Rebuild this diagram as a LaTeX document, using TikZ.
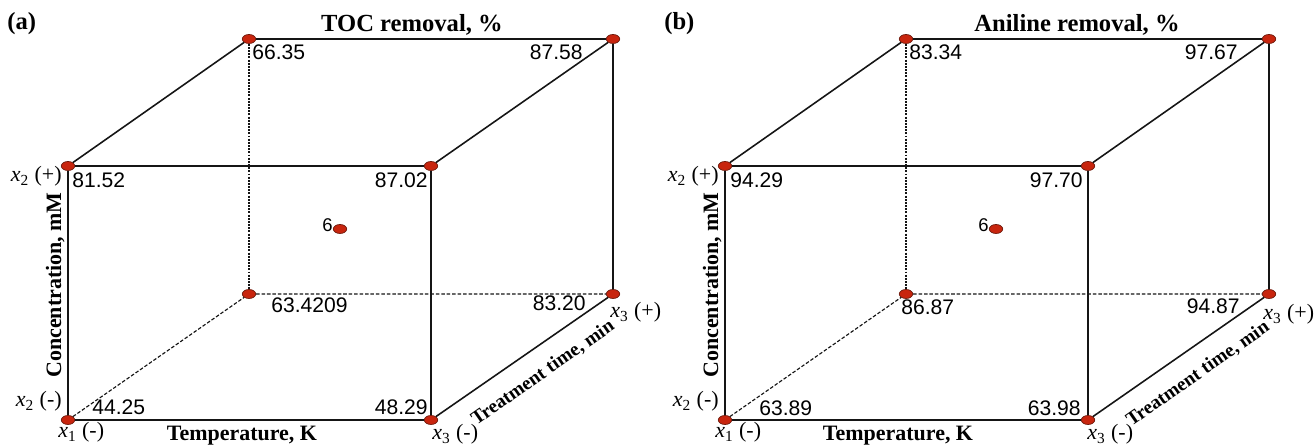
\documentclass[tikz,border=0pt]{standalone}
\usepackage{fontspec}
\setmainfont{Liberation Serif}
\newfontfamily\numfont{Liberation Sans}
\usepackage{tikz}
\usetikzlibrary{shapes.geometric}
\definecolor{dotred}{HTML}{C8250E}
\definecolor{dotrim}{HTML}{6E1A0C}
\definecolor{edgegray}{HTML}{151515}
\newcommand{\xfac}[2]{{\itshape x}\textsubscript{#1} (#2)}

\begin{document}
\begin{tikzpicture}[x=0.02cm, y=-0.02cm,
    vtx/.style={ellipse, draw=dotrim, fill=dotred, line width=0.4pt,
      minimum width=0.27cm, minimum height=0.18cm, inner sep=0pt},
    cubeline/.style={draw=edgegray, line width=0.9pt},
    hid/.style={draw=edgegray, line width=0.65pt, dash pattern=on 2pt off 1.1pt},
    hidv/.style={draw=edgegray, line width=0.65pt, dash pattern=on 1.1pt off 0.7pt},
    val/.style={font=\numfont\fontsize{12}{14}\selectfont, inner sep=0pt},
    fac/.style={font=\fontsize{12.5}{14}\selectfont, inner sep=0pt},
    axlab/.style={font=\bfseries\fontsize{12.5}{14}\selectfont, inner sep=0pt},
    ttl/.style={font=\bfseries\fontsize{14}{16}\selectfont, inner sep=0pt}]
  \useasboundingbox (0,0) rectangle (1315,448);

  % (a) TOC removal
  \node[ttl, anchor=base west] (a-tag) at (7,30) {(a)};
  \node[ttl, anchor=base] (a-title) at (412,32) {TOC removal, \%};
  \node[vtx] (a-fbl) at (68,420) {};
  \node[vtx] (a-fbr) at (431,420) {};
  \node[vtx] (a-ftl) at (68,166) {};
  \node[vtx] (a-ftr) at (431,166) {};
  \node[vtx] (a-bbl) at (249,294) {};
  \node[vtx] (a-bbr) at (613,294) {};
  \node[vtx] (a-btl) at (249,39) {};
  \node[vtx] (a-btr) at (613,39) {};
  \node[vtx] (a-mid) at (340,229) {};
  \draw[cubeline] (a-fbl) -- (a-fbr) -- (a-ftr) -- (a-ftl) -- (a-fbl);
  \draw[cubeline] (a-ftl) -- (a-btl) -- (a-btr) -- (a-ftr);
  \draw[cubeline] (a-fbr) -- (a-bbr) -- (a-btr);
  \draw[hidv] (a-btl) -- (a-bbl);
  \draw[hid] (a-fbl) -- (a-bbl) -- (a-bbr);
  \node[val, anchor=base west] (a-v1) at (252,60) {66.35};
  \node[val, anchor=base east] (a-v2) at (583,60) {87.58};
  \node[val, anchor=base west] (a-v3) at (72,188) {81.52};
  \node[val, anchor=base east] (a-v4) at (428,188) {87.02};
  \node[val, anchor=base west] (a-v5) at (271,313) {63.4209};
  \node[val, anchor=base east] (a-v6) at (586,311) {83.20};
  \node[val, anchor=base west] (a-v7) at (92,415) {44.25};
  \node[val, anchor=base east] (a-v8) at (428,415) {48.29};
  \node[val, font=\numfont\fontsize{10.5}{12}\selectfont, anchor=base east] (a-v0) at (333,232) {6};
  \node[fac, anchor=base east] (a-x2p) at (62,182) {\xfac{2}{+}};
  \node[fac, anchor=base east] (a-x2m) at (62,407) {\xfac{2}{-}};
  \node[fac, anchor=base west] (a-x1m) at (58,438) {\xfac{1}{-}};
  \node[fac, anchor=base west] (a-x3m) at (432,440) {\xfac{3}{-}};
  \node[fac, anchor=base west] (a-x3p) at (610,318) {\xfac{3}{+}};
  \node[axlab, anchor=base] (a-temp) at (242,441) {Temperature, K};
  \node[axlab, anchor=base, rotate=90] (a-conc) at (61,285) {Concentration, mM};
  \node[axlab, font=\bfseries\fontsize{11}{13}\selectfont, rotate=34.9] (a-time) at (543,373) {Treatment time, min};

  % (b) Aniline removal
  \begin{scope}[shift={(657,0)}]
    \node[ttl, anchor=base west] (b-tag) at (7,30) {(b)};
    \node[ttl, anchor=base] (b-title) at (420,32) {Aniline removal, \%};
    \node[vtx] (b-fbl) at (68,420) {};
    \node[vtx] (b-fbr) at (431,420) {};
    \node[vtx] (b-ftl) at (68,166) {};
    \node[vtx] (b-ftr) at (431,166) {};
    \node[vtx] (b-bbl) at (249,294) {};
    \node[vtx] (b-bbr) at (612,294) {};
    \node[vtx] (b-btl) at (249,39) {};
    \node[vtx] (b-btr) at (612,39) {};
    \node[vtx] (b-mid) at (339,229) {};
    \draw[cubeline] (b-fbl) -- (b-fbr) -- (b-ftr) -- (b-ftl) -- (b-fbl);
    \draw[cubeline] (b-ftl) -- (b-btl) -- (b-btr) -- (b-ftr);
    \draw[cubeline] (b-fbr) -- (b-bbr) -- (b-btr);
    \draw[hidv] (b-btl) -- (b-bbl);
    \draw[hid] (b-fbl) -- (b-bbl) -- (b-bbr);
    \node[val, anchor=base west] (b-v1) at (252,60) {83.34};
    \node[val, anchor=base east] (b-v2) at (581,60) {97.67};
    \node[val, anchor=base west] (b-v3) at (73,188) {94.29};
    \node[val, anchor=base east] (b-v4) at (426,188) {97.70};
    \node[val, anchor=base west] (b-v5) at (244,315) {86.87};
    \node[val, anchor=base east] (b-v6) at (583,314) {94.87};
    \node[val, anchor=base west] (b-v7) at (102,416) {63.89};
    \node[val, anchor=base east] (b-v8) at (424,416) {63.98};
    \node[val, font=\numfont\fontsize{10.5}{12}\selectfont, anchor=base east] (b-v0) at (332,232) {6};
    \node[fac, anchor=base east] (b-x2p) at (62,182) {\xfac{2}{+}};
    \node[fac, anchor=base east] (b-x2m) at (62,407) {\xfac{2}{-}};
    \node[fac, anchor=base west] (b-x1m) at (58,438) {\xfac{1}{-}};
    \node[fac, anchor=base west] (b-x3m) at (430,440) {\xfac{3}{-}};
    \node[fac, anchor=base west] (b-x3p) at (606,320) {\xfac{3}{+}};
    \node[axlab, anchor=base] (b-temp) at (241,441) {Temperature, K};
    \node[axlab, anchor=base, rotate=90] (b-conc) at (61,285) {Concentration, mM};
    \node[axlab, font=\bfseries\fontsize{11}{13}\selectfont, rotate=34.9] (b-time) at (541,374) {Treatment time, min};
  \end{scope}
\end{tikzpicture}
\end{document}
